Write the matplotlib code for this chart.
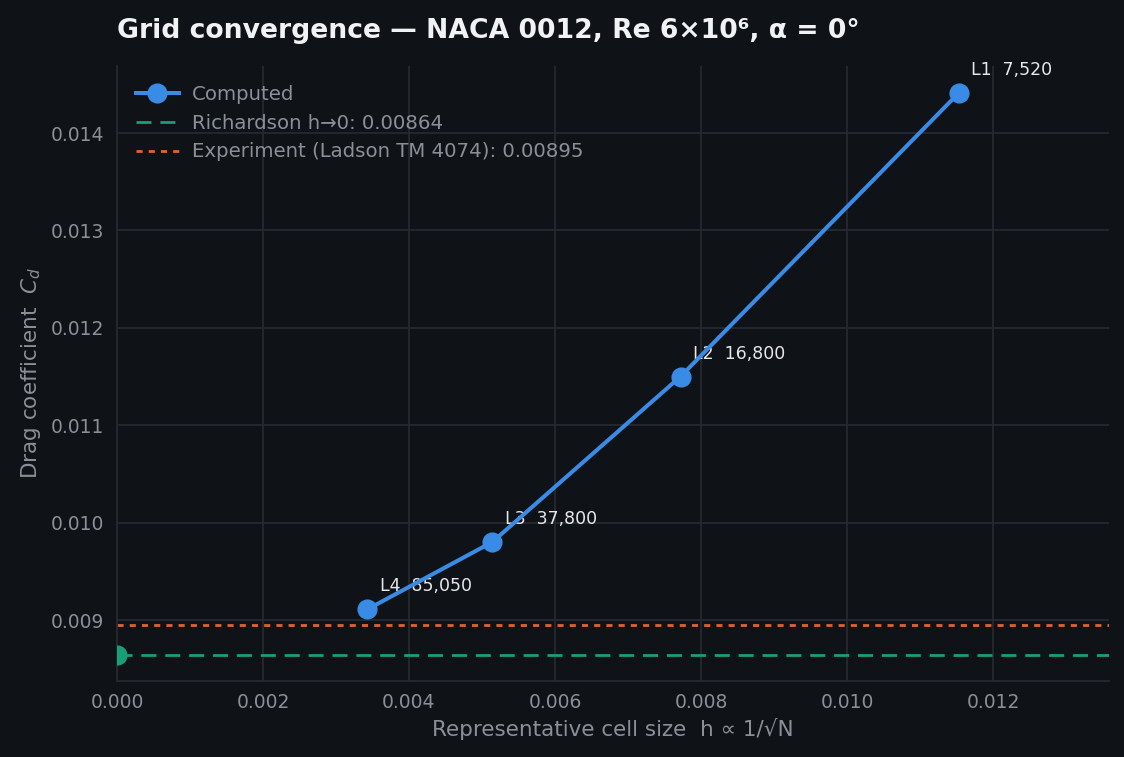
import matplotlib
matplotlib.use("Agg")
import matplotlib.pyplot as plt

levels = ["L1", "L2", "L3", "L4"]
cells = [7520, 16800, 37800, 85050]
h = [0.01153, 0.00772, 0.00514, 0.00343]
cd = [0.01441, 0.01150, 0.00980, 0.00911]
cd_rich = 0.00864
cd_exp = 0.00895

BG = "#0f1216"
GRID = "#262a30"
TXT = "#8b9097"
BLUE = "#3a8be6"
GREEN = "#1a9e77"
ORANGE = "#e3632d"

fig = plt.figure(figsize=(11.24, 7.57), dpi=100, facecolor=BG)
ax = fig.add_axes([117/1124, 1-681/757, (1109-117)/1124, (681-66)/757])
ax.set_facecolor(BG)

ax.plot(h, cd, "-o", color=BLUE, lw=2.9, ms=13.5, label="Computed", zorder=4)
ax.axhline(cd_rich, color=GREEN, ls=(0, (5.4, 3.2)), lw=2.0, label=f"Richardson h\u21920: {cd_rich:.5f}")
ax.axhline(cd_exp, color=ORANGE, ls=(0, (2.2, 2.2)), lw=2.0, label=f"Experiment (Ladson TM 4074): {cd_exp:.5f}")
ax.plot([0], [cd_rich], "o", color=GREEN, ms=13.5, zorder=5)

for lv, n, x, y in zip(levels, cells, h, cd):
    ax.annotate(f"{lv}  {n:,}", (x, y), xytext=(9, 10), textcoords="offset points",
                color="#e6e8ea", fontsize=12.5, va="bottom", ha="left")

ax.set_xlim(0, 0.01359)
ax.set_ylim(0.008374, 0.014688)
ax.grid(True, color=GRID, lw=1.3)
ax.set_axisbelow(True)
for s in ["top", "right"]:
    ax.spines[s].set_visible(False)
for s in ["left", "bottom"]:
    ax.spines[s].set_color(GRID)
    ax.spines[s].set_linewidth(1.3)
ax.tick_params(colors=TXT, labelsize=13.5, length=0, pad=9)
ax.xaxis.set_major_formatter(matplotlib.ticker.FormatStrFormatter("%.3f"))
ax.yaxis.set_major_formatter(matplotlib.ticker.FormatStrFormatter("%.3f"))

ax.set_xlabel("Representative cell size  h \u221d 1/\u221aN", color=TXT, fontsize=15.5, labelpad=4)
ax.set_ylabel("Drag coefficient  $C_d$", color=TXT, fontsize=15.5, labelpad=6)
ax.set_title("Grid convergence \u2014 NACA 0012, Re 6\u00d710\u2076, \u03b1 = 0\u00b0", loc="left",
             color="#f0f2f4", fontsize=19.2, fontweight="bold", pad=20)

leg = ax.legend(loc="upper left", frameon=False, fontsize=14.2, labelcolor=TXT,
                handlelength=2.2, borderaxespad=0.55, handletextpad=0.65, labelspacing=0.5)

fig.savefig("out.png", dpi=100, facecolor=BG)
